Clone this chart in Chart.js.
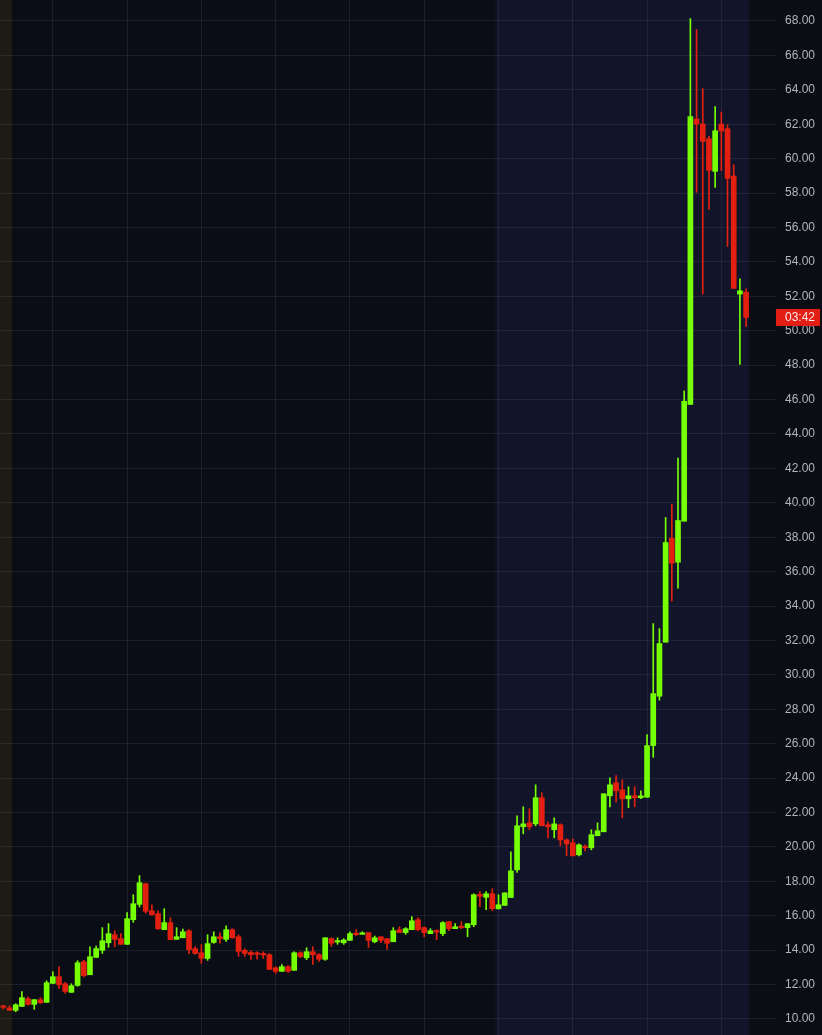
<!DOCTYPE html>
<html><head><meta charset="utf-8">
<script src="https://cdn.jsdelivr.net/npm/chart.js@4/dist/chart.umd.min.js"></script>
<style>html,body{margin:0;padding:0;background:#0c0c14;overflow:hidden}#wrap{width:822px;height:1035px;position:relative}</style>
</head><body><div id="wrap"><canvas id="c"></canvas></div>
<script>
const opens = [10.70,10.65,10.50,10.73,11.18,10.85,11.12,10.97,12.07,12.46,12.05,11.55,11.95,13.33,12.57,13.58,13.99,14.43,14.90,14.67,
14.34,15.77,16.66,17.86,16.29,16.12,15.19,15.60,14.63,14.72,15.13,14.09,13.85,13.52,14.45,14.78,14.63,15.19,14.78,13.99,
13.87,13.83,13.78,13.74,12.98,12.77,13.04,12.83,13.85,13.56,13.91,13.74,13.47,14.67,14.47,14.43,14.57,14.98,14.92,15.02,
14.49,14.78,14.67,14.49,15.19,15.02,15.19,15.77,15.31,14.96,15.11,14.96,15.66,15.25,15.36,15.31,15.48,17.24,17.07,17.28,
16.40,16.60,17.06,18.67,21.17,21.40,21.34,22.86,21.29,21.00,21.29,20.41,20.24,19.54,20.01,19.95,20.65,20.88,22.97,23.73,
23.32,22.80,22.97,22.86,22.89,25.89,28.76,31.90,37.93,36.55,38.93,45.71,62.30,62.01,61.16,59.26,62.01,61.74,58.99,52.13,52.24];
const highs = [10.79,10.77,10.89,11.59,11.29,11.14,11.24,12.22,12.75,13.04,12.13,12.05,13.39,13.41,14.20,14.24,15.31,15.54,15.13,14.96,
16.18,17.22,18.33,17.90,16.64,16.28,16.41,15.89,15.31,15.23,15.19,14.20,14.32,14.90,15.07,15.01,15.42,15.25,14.90,14.09,
13.97,13.91,13.91,13.80,13.04,13.16,13.10,13.91,13.91,14.14,14.20,13.80,14.72,14.72,14.72,14.67,15.07,15.19,15.07,15.02,
14.82,14.78,14.67,15.31,15.36,15.31,15.95,15.89,15.36,15.25,15.19,15.66,15.66,15.54,15.66,15.54,17.28,17.40,17.40,17.57,
17.22,17.33,19.72,21.81,22.33,22.22,23.61,23.15,21.46,21.69,21.34,20.47,20.47,20.18,20.12,21.00,21.40,23.09,24.02,24.14,
23.90,23.50,23.50,23.26,26.53,32.98,32.69,39.15,39.90,42.60,46.50,68.14,67.50,64.07,61.29,63.02,62.71,61.97,59.65,53.02,52.44];
const lows = [10.58,10.50,10.42,10.73,10.81,10.56,10.89,10.97,12.07,11.78,11.49,11.55,11.90,12.44,12.57,13.58,13.81,14.16,14.20,14.34,
14.34,15.62,16.51,16.14,16.02,15.19,15.19,14.61,14.63,14.72,13.79,13.76,13.23,13.41,14.40,14.40,14.51,14.69,13.64,13.64,
13.47,13.47,13.52,12.88,12.65,12.77,12.71,12.83,13.56,13.45,13.17,13.35,13.41,14.22,14.34,14.34,14.57,14.84,14.92,14.16,
14.43,14.43,14.05,14.49,15.02,14.92,15.19,15.13,14.78,14.96,14.61,14.84,15.13,15.25,15.25,14.78,15.36,16.53,16.35,16.29,
16.40,16.60,17.06,18.52,20.76,21.00,21.23,21.23,20.53,20.53,20.07,19.48,19.48,19.48,19.77,19.83,20.65,20.88,22.33,22.62,
21.69,22.28,22.33,22.80,22.89,25.21,28.53,31.90,34.28,35.04,38.93,45.71,58.04,52.13,57.05,58.33,59.30,54.90,52.46,48.04,50.25];
const closes = [10.68,10.50,10.83,11.24,10.85,11.12,10.95,12.11,12.46,11.99,11.60,11.93,13.27,12.52,13.62,14.09,14.55,14.96,14.63,14.34,
15.83,16.70,17.92,16.26,16.06,15.25,15.60,14.61,14.78,15.07,14.03,13.81,13.52,14.38,14.78,14.67,15.19,14.72,13.93,13.81,
13.74,13.76,13.72,12.88,12.77,13.04,12.77,13.85,13.62,13.91,13.74,13.47,14.72,14.40,14.53,14.59,14.96,14.90,14.98,14.57,
14.72,14.57,14.40,15.13,15.02,15.25,15.71,15.19,15.02,15.13,15.05,15.60,15.25,15.36,15.31,15.54,17.22,17.13,17.28,16.41,
16.64,17.33,18.61,21.23,21.34,21.17,22.86,21.23,21.17,21.34,20.41,20.18,19.48,20.12,19.95,20.71,20.94,23.09,23.61,23.26,
22.80,22.97,22.86,22.97,25.89,28.91,31.82,37.69,36.49,38.97,45.90,62.44,62.01,61.00,59.32,61.62,61.60,58.85,52.46,52.32,50.77];
const yTickValues = [10,12,14,16,18,20,22,24,26,28,30,32,34,36,38,40,42,44,46,48,50,52,54,56,58,60,62,64,66,68];
const xGridAt = [8,20,32,44,56,68,80,92,104,116];
const timerLabel = '03:42';
const sessionStart = 79.5;
const leftStripEnd = 1.4;

const UP = '#76ff03', DOWN = '#e3200f';
const GRID = 'rgba(130,135,165,0.14)';
const idx = opens.map((_, i) => i);
const colorOf = i => closes[i] >= opens[i] ? UP : DOWN;

const bgPlugin = {
  id: 'bg',
  beforeDraw(chart) {
    const {ctx, chartArea: a, scales: {x}} = chart;
    ctx.save();
    ctx.fillStyle = '#0c0c14';
    ctx.fillRect(0, 0, chart.width, chart.height);
    ctx.fillStyle = '#0b0d16';
    ctx.fillRect(a.left, a.top, a.right - a.left, a.bottom - a.top);
    const s1 = x.getPixelForValue(leftStripEnd);
    ctx.fillStyle = '#1e1b15';
    ctx.fillRect(a.left, a.top, s1 - a.left, a.bottom - a.top);
    const s2 = x.getPixelForValue(sessionStart);
    ctx.fillStyle = '#121429';
    ctx.fillRect(s2, a.top, a.right - s2, a.bottom - a.top);
    ctx.restore();
  }
};
const timerPlugin = {
  id: 'timer',
  afterDraw(chart) {
    const {ctx, scales: {y}, chartArea: a} = chart;
    const py = y.getPixelForValue(closes[closes.length - 1]);
    ctx.save();
    ctx.fillStyle = '#e31e14';
    ctx.fillRect(a.right + 27, py - 8.5, 44, 17);
    ctx.fillStyle = '#fbe9e9';
    ctx.font = '12px "Liberation Sans", Arial, sans-serif';
    ctx.textBaseline = 'middle';
    ctx.textAlign = 'left';
    ctx.fillText(timerLabel, a.right + 36, py + 0.5);
    ctx.restore();
  }
};

new Chart(document.getElementById('c'), {
  type: 'bar',
  data: {
    datasets: [
      {
        label: 'body',
        data: idx.map(i => ({x: i, y: [opens[i], closes[i]]})),
        backgroundColor: idx.map(colorOf),
        barThickness: 5,
        minBarLength: 1.5,
        grouped: false,
        borderWidth: 0
      },
      {
        label: 'wick',
        data: idx.map(i => ({x: i, y: [lows[i], highs[i]]})),
        backgroundColor: idx.map(colorOf),
        barThickness: 1,
        grouped: false,
        borderWidth: 0
      }
    ]
  },
  options: {
    responsive: true,
    maintainAspectRatio: false,
    animation: false,
    layout: {padding: 0},
    plugins: {legend: {display: false}, tooltip: {enabled: false}},
    scales: {
      x: {
        type: 'linear',
        min: -0.533,
        max: 120.47,
        offset: false,
        afterBuildTicks: s => { s.ticks = xGridAt.map(v => ({value: v})); },
        afterFit: s => { s.height = 0; s.paddingLeft = 0; s.paddingRight = 0; s.paddingTop = 0; s.paddingBottom = 0; },
        ticks: {display: false},
        grid: {color: GRID, drawTicks: false, lineWidth: 1, offset: false},
        border: {display: false}
      },
      y: {
        position: 'right',
        min: 9.07,
        max: 69.22,
        afterBuildTicks: s => { s.ticks = yTickValues.map(v => ({value: v})); },
        afterFit: s => { s.width = 73; s.paddingTop = 0; s.paddingBottom = 0; s.paddingLeft = 0; s.paddingRight = 0; },
        ticks: {
          color: '#b3b5bd',
          padding: 9,
          font: {family: '"Liberation Sans", Arial, sans-serif', size: 12},
          callback: v => Number(v).toFixed(2)
        },
        grid: {color: GRID, drawTicks: true, tickLength: 27, tickColor: GRID, lineWidth: 1},
        border: {display: false}
      }
    }
  },
  plugins: [bgPlugin, timerPlugin]
});
</script>
</body></html>
